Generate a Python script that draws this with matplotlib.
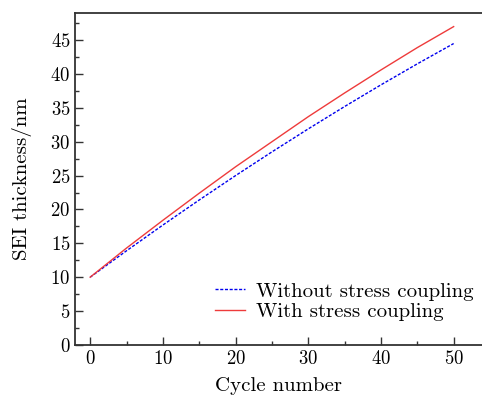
import matplotlib
matplotlib.use("Agg")
import matplotlib.pyplot as plt
from matplotlib.ticker import MultipleLocator

# data
cycles = [0, 5, 10, 15, 20, 25, 30, 35, 40, 45, 50]
thk_without = [10.0, 13.9, 17.7, 21.4, 25.0, 28.5, 31.9, 35.2, 38.4, 41.5, 44.5]
thk_with = [10.0, 14.3, 18.4, 22.4, 26.3, 30.0, 33.7, 37.2, 40.6, 43.9, 47.0]

label_without = "Without stress coupling"
label_with = "With stress coupling"

plt.rcParams["font.family"] = "serif"
plt.rcParams["font.serif"] = ["cmr10"]
plt.rcParams["mathtext.fontset"] = "cm"
plt.rcParams["axes.formatter.use_mathtext"] = True

fig = plt.figure(figsize=(4.82, 3.96), dpi=100)
ax = fig.add_axes([0.156, 0.129, 0.844, 0.838])

ax.plot(cycles, thk_without, color="#0000ee", linestyle=(0, (2.2, 1.2)), linewidth=1.0,
        label=label_without)
ax.plot(cycles, thk_with, color="#ee3b3b", linestyle="-", linewidth=1.0, label=label_with)

ax.set_xlim(-2.06, 53.9)
ax.set_ylim(0, 49)
ax.xaxis.set_major_locator(MultipleLocator(10))
ax.xaxis.set_minor_locator(MultipleLocator(5))
ax.yaxis.set_major_locator(MultipleLocator(5))
ax.yaxis.set_minor_locator(MultipleLocator(2.5))

ax.tick_params(which="both", direction="in", top=False, right=False,
               labelsize=13.5, width=1.0, color="#333333")
ax.tick_params(which="major", length=5.5)
ax.tick_params(which="minor", length=3)

for side in ["left", "bottom", "top"]:
    ax.spines[side].set_linewidth(1.3)
    ax.spines[side].set_color("#333333")
ax.spines["right"].set_visible(False)

ax.set_xlabel("Cycle number", fontsize=15, labelpad=6.5)
ax.set_ylabel("SEI thickness/nm", fontsize=15, labelpad=13)

ax.legend(loc="center left", bbox_to_anchor=(0.344, 0.13), frameon=False, fontsize=15,
          handlelength=1.45, handletextpad=0.5, labelspacing=0.1, borderpad=0,
          borderaxespad=0)

fig.savefig("out.png", dpi=100)
